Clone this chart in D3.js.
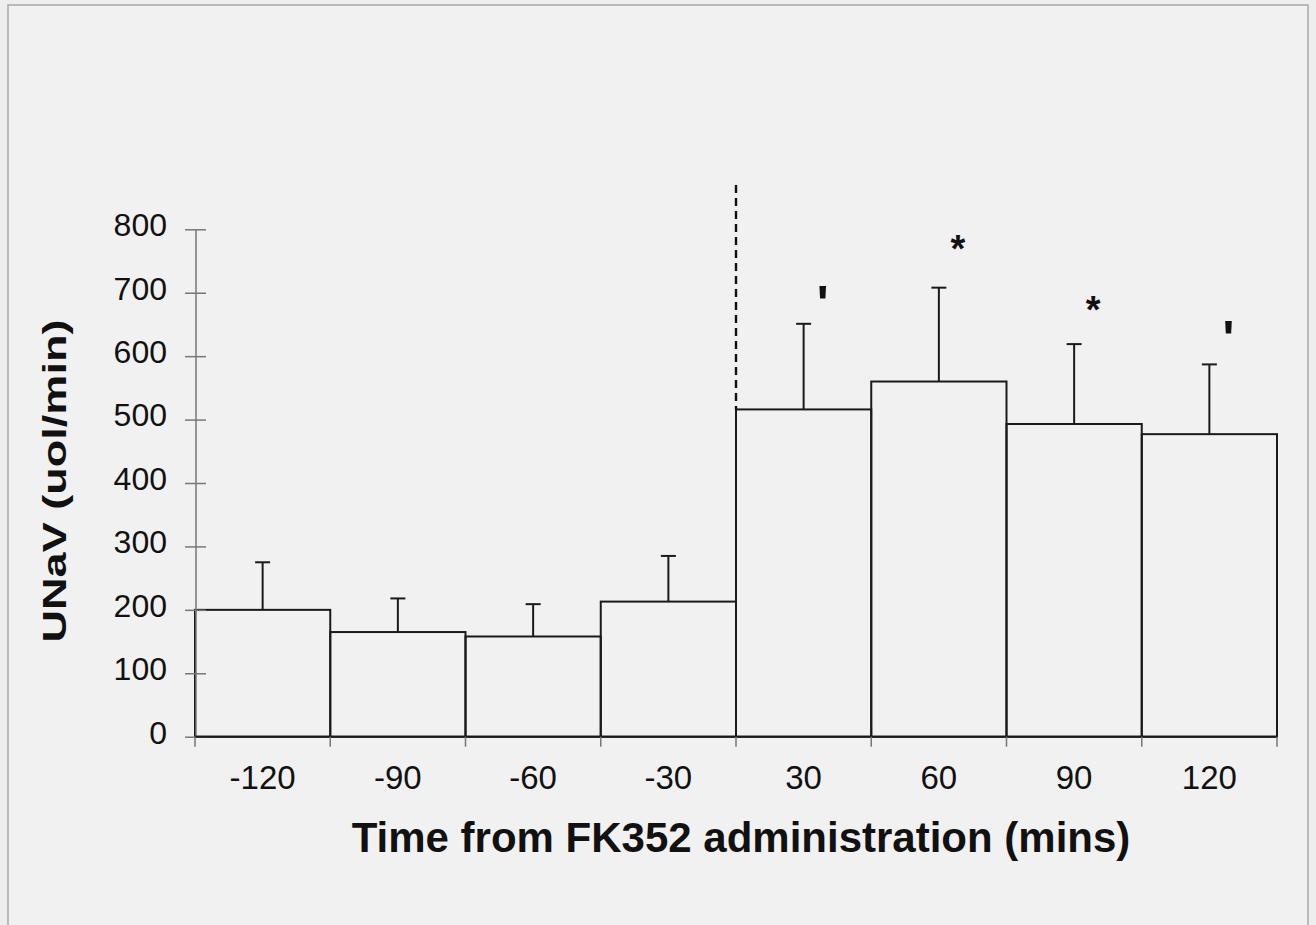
<!DOCTYPE html>
<html>
<head>
<meta charset="utf-8">
<script src="https://cdn.jsdelivr.net/npm/d3@7"></script>
<style>
  html, body { margin: 0; padding: 0; background: #efefef; }
  svg { display: block; }
  text { font-family: "Liberation Sans", Arial, Helvetica, sans-serif; fill: #111; }
</style>
</head>
<body>
<svg id="chart" width="1316" height="925"></svg>
<script>
// ---- data ----
const categories = ["-120", "-90", "-60", "-30", "30", "60", "90", "120"];
const means      = [200, 165, 158, 213, 516, 560, 493, 477];
const errors     = [75, 53, 51, 72, 135, 148, 126, 110];
const yTicks     = [0, 100, 200, 300, 400, 500, 600, 700, 800];
const markLabels = ["", "", "", "", "'", "*", "*", "'"];
const markLevels = [null, null, null, null, 701, 782, 686, 645];
const dividerAfter = "-30";   // dashed line between -30 and 30
const dividerTop   = 870;
const xTitle = "Time from FK352 administration (mins)";
const yTitle = "UNaV (uol/min)";

// ---- layout ----
const W = 1316, H = 925;
const svg = d3.select("#chart");

// background + frame
svg.append("rect").attr("x", 0).attr("y", 0).attr("width", W).attr("height", H).attr("fill", "#eeeeee");
svg.append("rect").attr("x", 8).attr("y", 5).attr("width", 1300).attr("height", 940)
  .attr("fill", "#f1f1f1").attr("stroke", "#a8a8a8").attr("stroke-width", 1.5);

const x = d3.scaleBand().domain(categories).range([195, 1277]).padding(0);
const y = d3.scaleLinear().domain([0, 800]).range([736.7, 229.3]);

const data = categories.map((c, i) => ({ c, m: means[i], e: errors[i], lab: markLabels[i], lev: markLevels[i] }));

// bars
svg.append("g").selectAll("rect").data(data).join("rect")
  .attr("x", d => x(d.c))
  .attr("y", d => y(d.m))
  .attr("width", x.bandwidth())
  .attr("height", d => y(0) - y(d.m))
  .attr("fill", "none")
  .attr("stroke", "#1a1a1a")
  .attr("stroke-width", 2);

// error bars
const eg = svg.append("g").attr("stroke", "#1a1a1a").attr("stroke-width", 2);
eg.selectAll("line.v").data(data).join("line").attr("class", "v")
  .attr("x1", d => x(d.c) + x.bandwidth() / 2)
  .attr("x2", d => x(d.c) + x.bandwidth() / 2)
  .attr("y1", d => y(d.m))
  .attr("y2", d => y(d.m + d.e));
eg.selectAll("line.cap").data(data).join("line").attr("class", "cap")
  .attr("x1", d => x(d.c) + x.bandwidth() / 2 - 7.5)
  .attr("x2", d => x(d.c) + x.bandwidth() / 2 + 7.5)
  .attr("y1", d => y(d.m + d.e))
  .attr("y2", d => y(d.m + d.e));

// dashed divider
const divX = x(dividerAfter) + x.bandwidth();
const nextIdx = categories.indexOf(dividerAfter) + 1;
svg.append("line")
  .attr("x1", divX).attr("x2", divX)
  .attr("y1", y(dividerTop)).attr("y2", y(means[nextIdx]))
  .attr("stroke", "#111").attr("stroke-width", 2.4)
  .attr("stroke-dasharray", "8,5");

// significance marks
const markSize = lab => lab === "*" ? 38 : 50;
svg.append("g").selectAll("text").data(data.filter(d => d.lab)).join("text")
  .attr("x", d => x(d.c) + x.bandwidth() / 2 + 19)
  .attr("y", d => y(d.lev) + markSize(d.lab) * 0.57)
  .attr("text-anchor", "middle")
  .attr("font-size", d => markSize(d.lab))
  .attr("font-weight", "bold")
  .text(d => d.lab);

// y axis
const yAxis = svg.append("g").attr("transform", "translate(196,0)")
  .call(d3.axisLeft(y).tickValues(yTicks).tickSize(10).tickPadding(18).tickFormat(d3.format("d")));
yAxis.select(".domain").attr("stroke", "#777").attr("stroke-width", 1.5)
  .attr("d", `M0,${y(800)}V${y(0)}`);
yAxis.selectAll(".tick line").attr("x1", -11).attr("x2", 10).attr("stroke", "#777").attr("stroke-width", 1.5);
yAxis.selectAll(".tick text").attr("font-size", 32).attr("font-family", "Liberation Sans, Arial, sans-serif")
  .attr("fill", "#111").attr("x", -29).attr("dy", "0.2em");

// x axis (labels centered under bars)
const xAxis = svg.append("g").attr("transform", `translate(0,${y(0)})`)
  .call(d3.axisBottom(x).tickSize(0).tickPadding(29));
xAxis.select(".domain").attr("stroke", "#1a1a1a").attr("stroke-width", 2)
  .attr("d", `M${x.range()[0]},0H${x.range()[1]}`);
xAxis.selectAll(".tick text").attr("font-size", 33).attr("font-family", "Liberation Sans, Arial, sans-serif")
  .attr("fill", "#111").attr("dy", "0.71em");
// boundary ticks
const bounds = categories.map(c => x(c)).concat([x.range()[1]]);
xAxis.append("g").selectAll("line").data(bounds).join("line")
  .attr("x1", d => d).attr("x2", d => d)
  .attr("y1", 0).attr("y2", 10)
  .attr("stroke", "#777").attr("stroke-width", 1.5);

// axis titles
svg.append("text")
  .attr("x", 741).attr("y", 852)
  .attr("text-anchor", "middle")
  .attr("font-size", 42).attr("font-weight", "bold")
  .text(xTitle);

svg.append("text")
  .attr("transform", "translate(66,481) rotate(-90)")
  .attr("text-anchor", "middle")
  .attr("font-size", 34).attr("font-weight", "bold")
  .attr("textLength", 323).attr("lengthAdjust", "spacingAndGlyphs")
  .text(yTitle);
</script>
</body>
</html>
